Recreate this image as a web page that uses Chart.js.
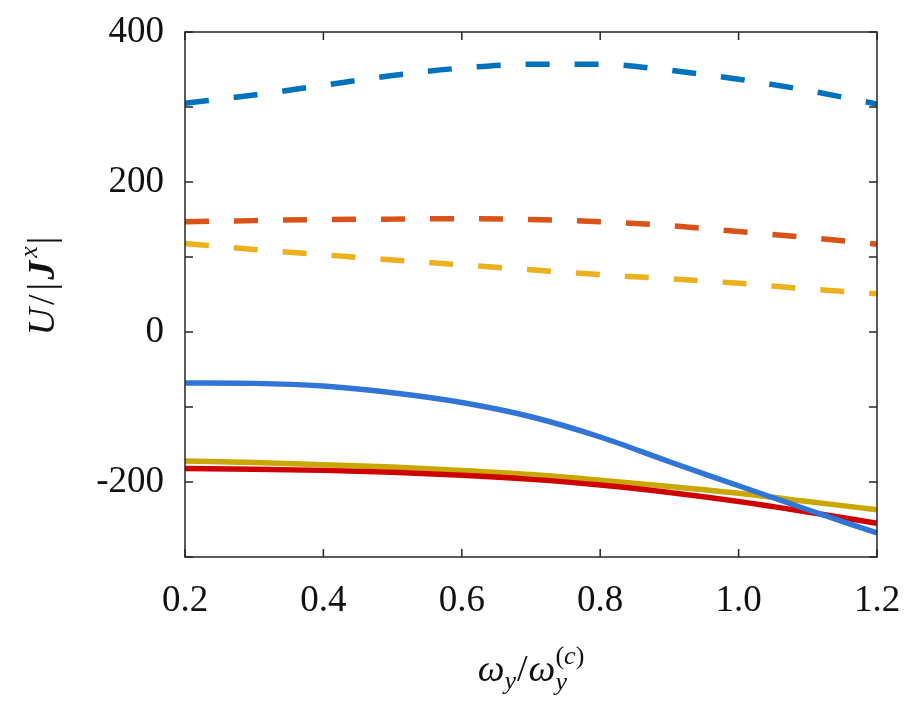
<!DOCTYPE html>
<html>
<head>
<meta charset="utf-8">
<script src="https://cdn.jsdelivr.net/npm/chart.js@4.4.1/dist/chart.umd.min.js"></script>
<style>
  body { margin: 0; background: #fff; }
  #wrap { width: 909px; height: 707px; }
</style>
</head>
<body>
<div id="wrap"><canvas id="chart1" width="909" height="707"></canvas></div>
<script>
// x values (omega_y / omega_y^(c))
var xs = [0.2, 0.3, 0.4, 0.5, 0.6, 0.7, 0.8, 0.9, 1.0, 1.1, 1.2];

// dashed curves
var blueDash   = [305, 316, 329, 342, 352, 357, 357, 349, 337, 322, 304];
var orangeDash = [147, 148.5, 150, 150.5, 151, 150, 147, 142, 134, 126, 117];
var yellowDash = [118, 110, 103, 96, 89.5, 83, 76.5, 71, 65, 57.5, 51];

// solid curves
var blueSolid = [-68, -68.5, -72, -81, -94, -113, -140, -173, -205, -237, -268];
var redSolid  = [-182, -183, -184.5, -187, -191, -196.5, -204, -214, -226, -240, -255];
var goldSolid = [-172, -174, -177, -180, -184.5, -190, -197.5, -206, -215, -226, -237];

var FONT = "'Liberation Serif', 'DejaVu Serif', serif";

function pts(ys) {
    return xs.map(function(x, i){ return { x: x, y: ys[i] }; });
}

function line(ys, color, dashed) {
    return {
        data: pts(ys),
        borderColor: color,
        borderWidth: 5.5,
        borderDash: dashed ? [24, 25] : [],
        borderCapStyle: 'butt',
        pointRadius: 0,
        fill: false,
        cubicInterpolationMode: 'monotone'
    };
}

// draw a row of text pieces, centred on (cx, cy)
function drawPieces(ctx, pieces, cx, cy) {
    var total = 0;
    pieces.forEach(function(p){
        if (p.stack) {
            var w = 0;
            p.stack.forEach(function(row){
                var rw = 0;
                row.parts.forEach(function(q){ ctx.font = q.font; rw += ctx.measureText(q.t).width; });
                w = Math.max(w, rw);
            });
            p.w = w;
        } else {
            ctx.font = p.font;
            p.w = ctx.measureText(p.t).width + (p.gap || 0);
        }
        total += p.w;
    });
    var x = cx - total / 2;
    ctx.textBaseline = 'alphabetic';
    ctx.textAlign = 'left';
    pieces.forEach(function(p){
        if (p.stack) {
            p.stack.forEach(function(row){
                var rx = x;
                row.parts.forEach(function(q){
                    ctx.font = q.font;
                    ctx.fillText(q.t, rx, cy + row.dy);
                    rx += ctx.measureText(q.t).width;
                });
            });
        } else {
            ctx.font = p.font;
            ctx.fillText(p.t, x + (p.gap || 0) / 2, cy + (p.dy || 0));
        }
        x += p.w;
    });
}

// box, inward ticks and axis titles
var framePlugin = {
    id: 'frame',
    afterDraw: function(chart) {
        var ctx = chart.ctx;
        var a = chart.chartArea;
        var xs_ = chart.scales.x, ys_ = chart.scales.y;
        ctx.save();
        ctx.strokeStyle = '#262626';
        ctx.lineWidth = 1.5;
        ctx.strokeRect(a.left, a.top, a.right - a.left, a.bottom - a.top);
        ctx.beginPath();
        xs_.ticks.forEach(function(t){
            var px = xs_.getPixelForValue(t.value);
            ctx.moveTo(px, a.bottom); ctx.lineTo(px, a.bottom - 8);
            ctx.moveTo(px, a.top); ctx.lineTo(px, a.top + 8);
        });
        ys_.ticks.forEach(function(t){
            var py = ys_.getPixelForValue(t.value);
            ctx.moveTo(a.left, py); ctx.lineTo(a.left + 8, py);
            ctx.moveTo(a.right, py); ctx.lineTo(a.right - 8, py);
        });
        ctx.stroke();

        ctx.fillStyle = '#111';
        var big = 38, small = 26;
        var it = 'italic ' + big + 'px ' + FONT;
        var up = big + 'px ' + FONT;
        var itS = 'italic ' + small + 'px ' + FONT;
        var upS = small + 'px ' + FONT;

        // x title: omega_y / omega_y^(c)
        drawPieces(ctx, [
            { t: 'ω', font: it },
            { t: 'y', font: itS, dy: 8 },
            { t: '/', font: up, gap: 2 },
            { t: 'ω', font: it },
            { stack: [
                { dy: 9, parts: [{ t: 'y', font: itS }] },
                { dy: -17, parts: [{ t: '(', font: upS }, { t: 'c', font: itS }, { t: ')', font: upS }] }
            ] }
        ], (a.left + a.right) / 2, 681);

        // y title: U / |J^x|
        ctx.translate(54, (a.top + a.bottom) / 2 - 8);
        ctx.rotate(-Math.PI / 2);
        drawPieces(ctx, [
            { t: 'U', font: it, gap: 2 },
            { t: '/', font: up, gap: 4 },
            { t: '|', font: up, gap: 4 },
            { t: 'J', font: 'italic bold ' + big + 'px ' + FONT, gap: 2 },
            { t: 'x', font: itS, dy: -17, gap: 4 },
            { t: '|', font: up }
        ], 0, 0);
        ctx.restore();
    }
};

var ctx = document.getElementById('chart1');
var chart1 = new Chart(ctx, {
    type: 'line',
    data: {
        datasets: [
            line(blueDash, '#0072BD', true),
            line(orangeDash, '#D95319', true),
            line(yellowDash, '#EDB120', true),
            line(blueSolid, '#3175D8', false),
            line(redSolid, '#CF0000', false),
            line(goldSolid, '#C9A700', false)
        ]
    },
    plugins: [framePlugin],
    options: {
        responsive: false,
        animation: false,
        devicePixelRatio: 1,
        layout: { padding: { top: 32, right: 32, left: 0, bottom: 0 } },
        plugins: {
            legend: { display: false },
            tooltip: { enabled: false }
        },
        scales: {
            x: {
                type: 'linear',
                min: 0.2,
                max: 1.2,
                grid: { display: false },
                border: { display: false },
                afterFit: function(s){
                    s.height = 150;
                    s.paddingLeft = 0;
                    s.paddingRight = 0;
                },
                ticks: {
                    stepSize: 0.2,
                    padding: 14,
                    color: '#111',
                    font: { family: FONT, size: 37 },
                    maxRotation: 0,
                    callback: function(v){ return v.toFixed(1); }
                }
            },
            y: {
                min: -300,
                max: 400,
                grid: { display: false },
                border: { display: false },
                afterFit: function(s){
                    s.width = 185;
                    s.paddingTop = 0;
                    s.paddingBottom = 0;
                },
                ticks: {
                    stepSize: 100,
                    padding: 13,
                    color: '#111',
                    font: { family: FONT, size: 37 },
                    callback: function(v){ return v % 200 === 0 ? String(v) : ''; }
                }
            }
        }
    }
});
</script>
</body>
</html>
